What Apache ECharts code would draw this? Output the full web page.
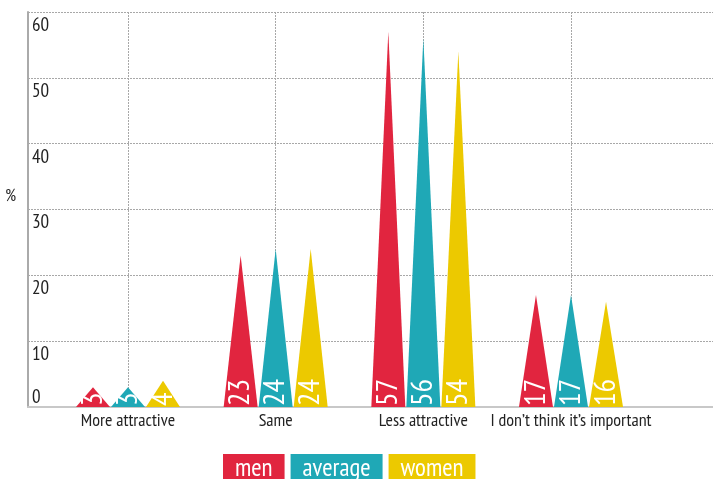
<!DOCTYPE html>
<html>
<head>
<meta charset="utf-8">
<script src="https://cdn.jsdelivr.net/npm/echarts@6/dist/echarts.min.js"></script>
<style>
  html, body { margin: 0; padding: 0; background: #fff; }
  #chart { width: 713px; height: 479px; }
</style>
</head>
<body>
<div id="chart"></div>
<script>
// Answers to "how attractive" question, in percent
const categories = ['More attractive', 'Same', 'Less attractive', 'I don’t think it’s important'];
const men = [3, 23, 57, 17];
const average = [3, 24, 56, 17];
const women = [4, 24, 54, 16];
const yTicks = { min: 0, max: 60, step: 10 };

const FONT = '"PT Sans Narrow", "Roboto Condensed", "DejaVu Sans Condensed", sans-serif';
const COLORS = { men: '#E1253F', average: '#1FA8B6', women: '#ECC900' };
const gridLine = { show: true, lineStyle: { color: '#a8a8a8', type: [2, 1], width: 1 } };

const chart = echarts.init(document.getElementById('chart'));

function triangleSeries(name, data) {
  return {
    name: name,
    type: 'pictorialBar',
    xAxisIndex: 1,
    yAxisIndex: 1,
    symbol: 'triangle',
    symbolSize: ['100%', '100%'],
    barWidth: 34,
    barGap: '3%',
    itemStyle: { color: COLORS[name] },
    label: {
      show: true,
      position: 'insideBottom',
      rotate: 90,
      align: 'left',
      verticalAlign: 'middle',
      distance: 1,
      color: '#fff',
      fontFamily: FONT,
      fontSize: 30
    },
    data: data
  };
}

function legendItem(name) {
  return {
    name: name,
    textStyle: {
      color: '#fff',
      backgroundColor: COLORS[name],
      padding: [3, 12, 2, 12],
      fontFamily: FONT,
      fontSize: 25,
      lineHeight: 24
    }
  };
}

chart.setOption({
  animation: false,
  backgroundColor: '#fff',
  grid: [
    { left: 28, right: 0, top: 12, bottom: 72 },
    { left: 128, right: 142, top: 12, bottom: 72 }
  ],
  xAxis: [
    {
      gridIndex: 0, type: 'value', min: 0, max: 1, interval: 1,
      axisLabel: { show: false }, axisTick: { show: false },
      axisLine: { show: true, lineStyle: { color: '#c8c8c8', width: 2 } },
      splitLine: gridLine
    },
    {
      gridIndex: 1, type: 'category', data: categories, boundaryGap: false,
      axisLine: { show: false }, axisTick: { show: false },
      axisLabel: { interval: 0, color: '#222', fontFamily: FONT, fontSize: 18, margin: 5 },
      splitLine: Object.assign({ interval: 0 }, gridLine)
    }
  ],
  yAxis: [
    {
      gridIndex: 0, type: 'value', min: yTicks.min, max: yTicks.max, interval: yTicks.step,
      name: '%', nameLocation: 'middle', nameRotate: 0, nameGap: 12,
      nameTextStyle: { color: '#222', fontFamily: FONT, fontSize: 17, verticalAlign: 'bottom', padding: [0, 0, 5, 0] },
      axisLine: { show: true, lineStyle: { color: '#aaaaaa', width: 2 } },
      axisTick: { show: false },
      axisLabel: {
        inside: true, verticalAlign: 'top', margin: 4, padding: [4, 0, 0, 0],
        color: '#222', fontFamily: FONT, fontSize: 19,
        formatter: v => (v === 0 ? '' : String(v))
      },
      splitLine: gridLine
    },
    {
      gridIndex: 1, type: 'value', min: yTicks.min, max: yTicks.max, interval: yTicks.step,
      show: false
    },
    {
      // zero label sits above the baseline
      gridIndex: 0, type: 'value', min: yTicks.min, max: yTicks.max, interval: yTicks.step,
      position: 'left',
      axisLine: { show: false }, axisTick: { show: false }, splitLine: { show: false },
      axisLabel: {
        inside: true, verticalAlign: 'bottom', margin: 4,
        color: '#222', fontFamily: FONT, fontSize: 19,
        formatter: v => (v === 0 ? '0' : '')
      }
    }
  ],
  legend: {
    left: 213,
    top: 449,
    itemWidth: 0,
    itemHeight: 0,
    itemGap: 1,
    icon: 'rect',
    selectedMode: false,
    data: [legendItem('men'), legendItem('average'), legendItem('women')]
  },
  series: [
    triangleSeries('men', men),
    triangleSeries('average', average),
    triangleSeries('women', women)
  ]
});
</script>
</body>
</html>
